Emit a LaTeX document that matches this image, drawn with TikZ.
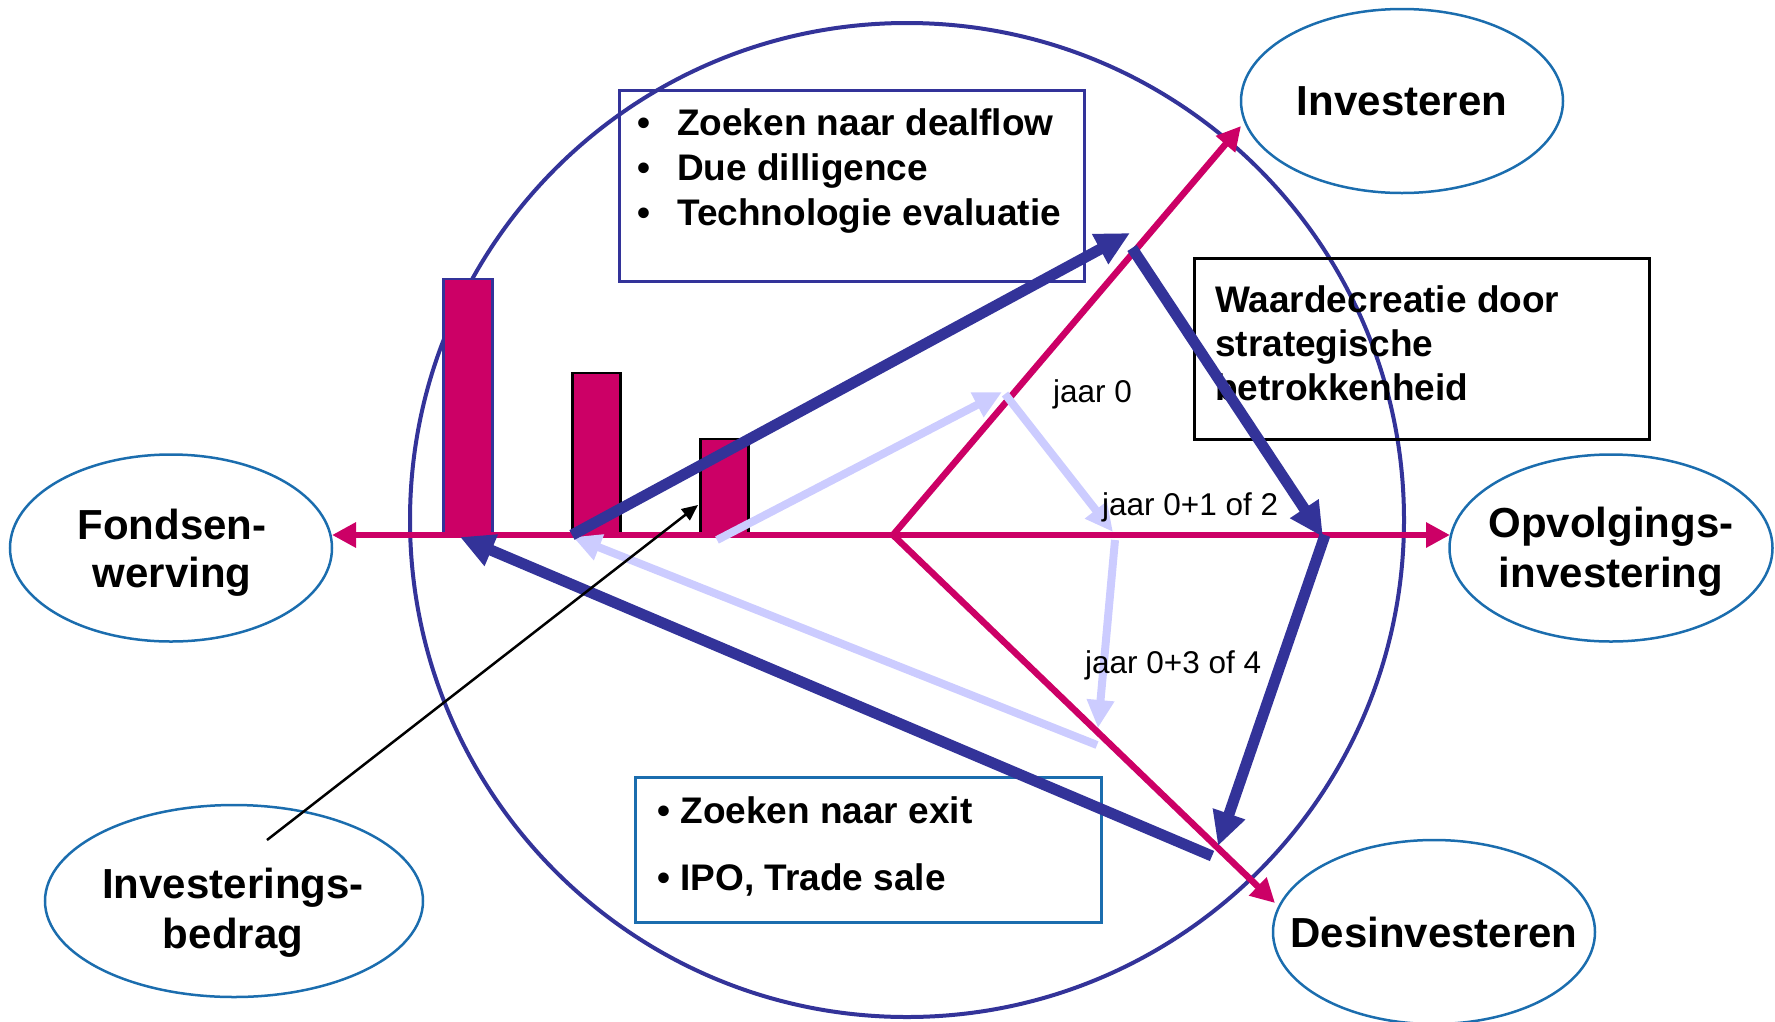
\documentclass[tikz,border=0pt]{standalone}
\usepackage{fontspec}
\setmainfont{Liberation Sans}
\usetikzlibrary{shapes.geometric,arrows.meta}
\definecolor{pinkc}{HTML}{CC0066}
\definecolor{navy}{HTML}{333399}
\definecolor{lav}{HTML}{CCCCFF}
\definecolor{ellblue}{HTML}{1B6DAE}
\begin{document}
\begin{tikzpicture}[x=1pt,y=-1pt,
  ell/.style={ellipse, draw=ellblue, line width=2.5pt, inner xsep=-40pt, inner ysep=0pt, align=center, font=\fontsize{42}{48}\selectfont\bfseries},
  elltxt/.style={align=center, inner sep=0pt, anchor=north},
  boxtxt/.style={align=left, inner sep=0pt, anchor=north west},
  frame/.style={line width=2.5pt, inner sep=0pt, anchor=north west},
  jaar/.style={font=\fontsize{31.5}{36}\selectfont, inner sep=0pt, anchor=base west},
  bar/.style={fill=pinkc, line width=2.5pt, anchor=south west, inner sep=0pt},
  pinkline/.style={draw=pinkc, line width=6.5pt},
  pinkboth/.style={pinkline, {Triangle[length=24pt,width=24pt]}-{Triangle[length=24pt,width=24pt]}},
  navyarrow/.style={draw=navy, line width=11pt, -{Triangle[length=34pt,width=32pt]}},
  lavarrow/.style={draw=lav, line width=8pt, -{Triangle[length=28pt,width=26pt]}}
]
\useasboundingbox (0,0) rectangle (1775,1021);

% big circle
\node[circle, draw=navy, line width=4pt, minimum size=994pt, inner sep=0pt] (cyc) at (907,520) {};

% boxes
\node[frame, draw=navy, minimum width=465pt, minimum height=191pt] (topbox) at (618,89) {};
\node[boxtxt, font=\fontsize{37}{45}\selectfont\bfseries] (toptxt) at (637,108)
  {\makebox[40pt][l]{•}Zoeken naar dealflow\\ \makebox[40pt][l]{•}Due dilligence\\ \makebox[40pt][l]{•}Technologie evaluatie};

\node[frame, draw=black, minimum width=455pt, minimum height=181pt] (wbox) at (1193,257) {};
\node[boxtxt, font=\fontsize{37}{44}\selectfont\bfseries] (wtxt) at (1215,285)
  {Waardecreatie door\\strategische\\betrokkenheid};

\node[frame, draw=ellblue, minimum width=466pt, minimum height=145pt] (bbox) at (634,776) {};
\node[boxtxt, font=\fontsize{37}{67}\selectfont\bfseries] (btxt) at (657,796)
  {• Zoeken naar exit\\• IPO, Trade sale};

% bars
\node[bar, draw=navy, minimum width=49pt, minimum height=255pt] (bar1) at (442,535) {};
\node[bar, draw=black, minimum width=48pt, minimum height=161pt] (bar2) at (571,535) {};
\node[bar, draw=black, minimum width=48pt, minimum height=95pt] (bar3) at (699,535) {};

% ellipses
\node[ell, minimum width=322pt, minimum height=184pt] (inv) at (1402,101) {Investeren};
\node[ell, minimum width=322pt, minimum height=187pt] (fonds) at (171,548) {};
\node[elltxt, font=\fontsize{42}{48}\selectfont\bfseries] (fondstxt) at (172,509) {Fondsen-\\werving};
\node[ell, minimum width=323pt, minimum height=187pt] (opv) at (1611,548) {};
\node[elltxt, font=\fontsize{42}{50}\selectfont\bfseries] (opvtxt) at (1611,507) {Opvolgings-\\investering};
\node[ell, minimum width=378pt, minimum height=192pt] (invb) at (234,901) {};
\node[elltxt, font=\fontsize{42}{50}\selectfont\bfseries] (invbtxt) at (233,868) {Investerings-\\bedrag};
\node[ell, minimum width=322pt, minimum height=184pt] (desinv) at (1434,932) {Desinvesteren};

% coordinates
\coordinate (c0) at (893,535);
\coordinate (pL) at (332,535);
\coordinate (pR) at (1450,535);
\coordinate (pI) at (1241,126);
\coordinate (pD) at (1275,903);

\coordinate (nA0) at (572,535);
\coordinate (nA1) at (1130,233);
\coordinate (nB0) at (1132,248);
\coordinate (nB1) at (1323,537);
\coordinate (nC0) at (1325,535);
\coordinate (nC1) at (1218,846);
\coordinate (nD0) at (1212,856);
\coordinate (nD1) at (460,537);

\coordinate (lA0) at (717,540);
\coordinate (lA1) at (1002,392);
\coordinate (lB0) at (1005,394);
\coordinate (lB1) at (1113,532);
\coordinate (lC0) at (1115,540);
\coordinate (lC1) at (1098,728);
\coordinate (lD0) at (1097,745);
\coordinate (lD1) at (573,537);

\coordinate (k0) at (267,840);
\coordinate (k1) at (698,505);

% pink lines
\draw[pinkboth] (pL) -- (pR);
\draw[pinkboth, line join=miter] (pI) -- (c0) -- (pD);

% lavender arrows
\draw[lavarrow] (lA0) -- (lA1);
\draw[lavarrow] (lB0) -- (lB1);
\draw[lavarrow] (lC0) -- (lC1);
\draw[lavarrow] (lD0) -- (lD1);

% jaar labels
\node[jaar] (j0) at (1053,402) {jaar 0};
\node[jaar] (j12) at (1102,515) {jaar 0+1 of 2};
\node[jaar] (j34) at (1085,673) {jaar 0+3 of 4};

% navy arrows
\draw[navyarrow] (nA0) -- (nA1);
\draw[navyarrow] (nB0) -- (nB1);
\draw[navyarrow] (nC0) -- (nC1);
\draw[navyarrow] (nD0) -- (nD1);

% black arrow
\draw[line width=2.5pt, -{Triangle[length=16pt,width=14pt]}] (k0) -- (k1);
\end{tikzpicture}
\end{document}
